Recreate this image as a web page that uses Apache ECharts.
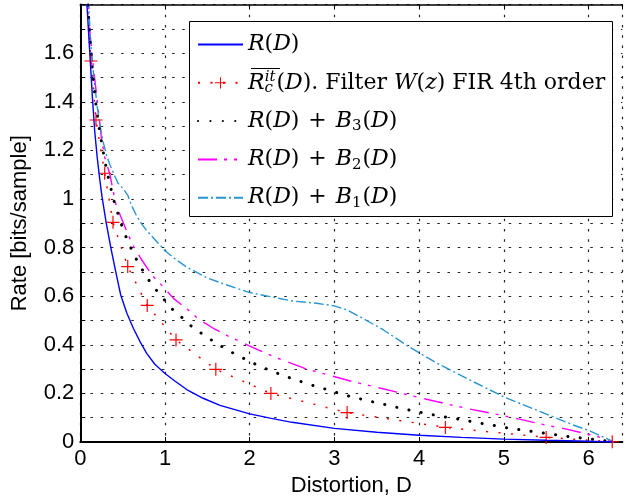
<!DOCTYPE html>
<html>
<head>
<meta charset="utf-8">
<script src="https://cdn.jsdelivr.net/npm/echarts@6.0.0/dist/echarts.min.js"></script>
<style>html,body{margin:0;padding:0;background:#fff;}#c{width:624px;height:496px;}</style>
</head>
<body>
<div id="c"></div>
<script>
// ---- data ----
const xTicks = [0, 1, 2, 3, 4, 5, 6];
const yTickLabels = ['0', '0.2', '0.4', '0.6', '0.8', '1', '1.2', '1.4', '1.6'];

const rdD = [0.075, 0.11, 0.145, 0.17, 0.2, 0.23, 0.256, 0.307, 0.366, 0.425, 0.477, 0.55, 0.626, 0.71, 0.784, 0.88, 1.0, 1.12, 1.256, 1.45, 1.65, 2.0, 2.24, 2.5, 3.0, 3.5, 4.0, 4.5, 5.0, 5.5, 6.0, 6.28];
const rdR = [1.82, 1.613, 1.407, 1.28, 1.17, 1.08, 1.01, 0.9, 0.79, 0.69, 0.605, 0.53, 0.468, 0.41, 0.365, 0.32, 0.282, 0.25, 0.216, 0.18, 0.151, 0.116, 0.098, 0.081, 0.056, 0.04, 0.028, 0.019, 0.012, 0.007, 0.003, 0];

const rcD = [0.07, 0.126, 0.185, 0.288, 0.386, 0.56, 0.79, 1.13, 1.6, 2.25, 3.15, 4.31, 5.5, 6.28];
const rcR = [1.87, 1.568, 1.325, 1.106, 0.904, 0.722, 0.562, 0.42, 0.299, 0.2, 0.121, 0.06, 0.019, 0.001];

const b3D = [0.08, 0.09, 0.105, 0.125, 0.15, 0.18, 0.21, 0.24, 0.27, 0.31, 0.358, 0.394, 0.437, 0.48, 0.53, 0.59, 0.654, 0.728, 0.807, 0.895, 0.988, 1.086, 1.197, 1.31, 1.43, 1.555, 1.68, 1.81, 1.94, 2.07, 2.21, 2.35, 2.49, 2.63, 2.77, 2.92, 3.06, 3.2, 3.35, 3.49, 3.64, 3.78, 3.93, 4.08, 4.22, 4.36, 4.51, 4.66, 4.81, 4.96, 5.1, 5.25, 5.4, 5.55, 5.69, 5.84, 5.99, 6.13, 6.28];
const b3R = [1.9, 1.8, 1.7, 1.6, 1.5, 1.4, 1.32, 1.254, 1.195, 1.12, 1.048, 0.996, 0.948, 0.9, 0.852, 0.804, 0.757, 0.711, 0.667, 0.626, 0.587, 0.547, 0.513, 0.477, 0.447, 0.418, 0.391, 0.365, 0.342, 0.32, 0.299, 0.28, 0.262, 0.246, 0.23, 0.215, 0.2, 0.186, 0.174, 0.162, 0.151, 0.139, 0.128, 0.118, 0.108, 0.1, 0.092, 0.081, 0.073, 0.063, 0.055, 0.048, 0.04, 0.033, 0.026, 0.019, 0.014, 0.007, 0.002];

const b2D = [0.085, 0.1, 0.115, 0.154, 0.213, 0.252, 0.29, 0.35, 0.418, 0.475, 0.55, 0.62, 0.72, 0.85, 0.94, 1.1, 1.275, 1.41, 1.57, 1.76, 1.89, 2.1, 2.3, 2.65, 2.85, 3.22, 3.44, 3.8, 4.01, 4.36, 4.59, 4.96, 5.17, 5.53, 5.74, 6.08, 6.3];
const b2R = [1.9, 1.78, 1.68, 1.544, 1.366, 1.243, 1.17, 1.1, 0.98, 0.93, 0.866, 0.81, 0.752, 0.685, 0.653, 0.591, 0.543, 0.502, 0.468, 0.433, 0.413, 0.379, 0.349, 0.303, 0.283, 0.248, 0.23, 0.2, 0.182, 0.154, 0.136, 0.111, 0.095, 0.067, 0.053, 0.025, 0];

const b1D = [0.085, 0.1, 0.12, 0.16, 0.2, 0.233, 0.27, 0.31, 0.35, 0.4, 0.445, 0.5, 0.56, 0.61, 0.66, 0.72, 0.78, 0.92, 1.0, 1.11, 1.25, 1.33, 1.5, 1.73, 2.0, 2.24, 2.51, 2.79, 3.0, 3.13, 3.3, 3.58, 3.85, 4.01, 4.25, 4.64, 5.01, 5.43, 5.82, 6.02, 6.3];
const b1R = [1.9, 1.79, 1.66, 1.5, 1.38, 1.3, 1.235, 1.18, 1.14, 1.1, 1.065, 1.045, 1.016, 0.97, 0.934, 0.9, 0.872, 0.818, 0.787, 0.756, 0.721, 0.706, 0.675, 0.646, 0.615, 0.598, 0.58, 0.571, 0.56, 0.546, 0.516, 0.461, 0.399, 0.365, 0.317, 0.248, 0.184, 0.125, 0.07, 0.045, 0];

const names = ['RD', 'RC', 'B3', 'B2', 'B1'];
// ---------------------------------------

const zip = (a, b) => a.map((v, i) => [v, b[i]]);
const plusPath = 'path://M0,4.55H10V5.45H0Z M4.55,0H5.45V10H4.55Z';

const legendText = {
  RD: '{i|R}{n|(}{i|D}{n|)}',
  RC: '{i|R}{cs|c}{sp|it}{n|(}{i|D}{n|). Filter }{i|W}{n|(}{i|z}{n|) FIR 4th order}',
  B3: '{i|R}{n|(}{i|D}{n|)}{pl|+}{i|B}{sb|3}{n|(}{i|D}{n|)}',
  B2: '{i|R}{n|(}{i|D}{n|)}{pl|+}{i|B}{sb|2}{n|(}{i|D}{n|)}',
  B1: '{i|R}{n|(}{i|D}{n|)}{pl|+}{i|B}{sb|1}{n|(}{i|D}{n|)}'
};

const serif = 'DejaVu Serif';
const sans = 'Liberation Sans';
const chart = echarts.init(document.getElementById('c'), null, {renderer: 'canvas'});
const dotted = {type: [2.5, 7.7], width: 1.2, color: '#222'};
const hide = {opacity: 0};

chart.setOption({
  animation: false,
  backgroundColor: '#fff',
  grid: {left: 80.3, right: 1.6, top: 4.6, bottom: 54, outerBoundsMode: 'none', containLabel: false},
  xAxis: [{
    type: 'value', min: 0, max: 6.4, interval: 1, position: 'bottom',
    name: 'Distortion, D', nameLocation: 'middle', nameGap: 27,
    nameTextStyle: {fontFamily: sans, fontSize: 22, color: '#000'},
    axisLine: {onZero: false, lineStyle: {color: '#000', width: 2}},
    axisTick: {inside: true, length: 5, lineStyle: {color: '#000', width: 1}},
    axisLabel: {fontFamily: sans, fontSize: 22, color: '#000', margin: 6, showMaxLabel: false,
      formatter: v => (xTicks.indexOf(Math.round(v * 1000) / 1000) >= 0 ? String(Math.round(v)) : '')},
    splitLine: {show: true, lineStyle: dotted}
  }, {
    type: 'value', min: 0, max: 6.4, interval: 1, position: 'top',
    axisLine: {onZero: false, lineStyle: {color: '#000', width: 1.5}},
    axisTick: {inside: true, length: 5, lineStyle: {color: '#000', width: 1}},
    axisLabel: {show: false}, splitLine: {show: false}
  }],
  yAxis: {
    type: 'value', min: 0, max: 1.8, interval: 0.1,
    name: 'Rate [bits/sample]', nameLocation: 'middle', nameGap: 49, nameRotate: 90,
    nameTextStyle: {fontFamily: sans, fontSize: 22, color: '#000'},
    axisLine: {show: true, onZero: false, lineStyle: {color: '#000', width: 2}},
    axisTick: {show: true, inside: true, length: 5, lineStyle: {color: '#000', width: 1}},
    axisLabel: {fontFamily: sans, fontSize: 22, color: '#000', margin: 6,
      formatter: v => {
        const k = Math.round(v * 10);
        if (k % 2 !== 0) return '';
        const s = String(k / 10);
        return yTickLabels.indexOf(s) >= 0 ? s : '';
      }},
    splitLine: {show: true, lineStyle: dotted}
  },
  legend: {
    orient: 'vertical', left: 197, top: 33.5, padding: 0, itemGap: 14.3,
    itemWidth: 45, itemHeight: 14, z: 5,
    data: [
      {name: 'RD', itemStyle: hide},
      {name: 'RC'},
      {name: 'B3', itemStyle: hide},
      {name: 'B2', itemStyle: hide},
      {name: 'B1', itemStyle: hide}
    ],
    formatter: n => legendText[n],
    textStyle: {
      color: '#000',
      rich: {
        i: {fontFamily: serif, fontStyle: 'italic', fontSize: 22, lineHeight: 26, color: '#000'},
        n: {fontFamily: serif, fontSize: 22, lineHeight: 26, color: '#000'},
        pl: {fontFamily: serif, fontSize: 22, lineHeight: 26, color: '#000', padding: [0, 9, 0, 9]},
        sb: {fontFamily: serif, fontSize: 15, lineHeight: 15, verticalAlign: 'bottom', color: '#000', padding: [0, 1, 0, 0]},
        cs: {fontFamily: serif, fontStyle: 'italic', fontSize: 15, lineHeight: 14, verticalAlign: 'bottom', width: 0.1, color: '#000'},
        sp: {fontFamily: serif, fontStyle: 'italic', fontSize: 15, lineHeight: 14, verticalAlign: 'top', color: '#000', padding: [0, 1, 0, 0]}
      }
    }
  },
  graphic: [
    {type: 'rect', z: 3, shape: {x: 189.5, y: 21.5, width: 423, height: 195},
      style: {fill: '#fff', stroke: '#000', lineWidth: 1}},
    {type: 'line', z: 6, shape: {x1: 251, y1: 68.5, x2: 280, y2: 68.5},
      style: {stroke: '#000', lineWidth: 1}}
  ],
  series: [
    {name: 'RD', type: 'line', data: zip(rdD, rdR), symbol: 'none', z: 6,
      lineStyle: {color: '#0000ff', width: 1.4}, itemStyle: {color: '#0000ff'}},
    {name: 'RC', type: 'line', data: zip(rcD, rcR), symbol: plusPath, symbolSize: 13, z: 5,
      lineStyle: {color: '#ff0000', width: 1.5, type: [2, 10.5]}, itemStyle: {color: '#ff0000'}},
    {name: 'B3', type: 'line', data: zip(b3D, b3R), symbol: 'none', z: 4,
      lineStyle: {color: '#000', width: 3, type: [0.1, 12.3], cap: 'round'}, itemStyle: {color: '#000'}},
    {name: 'B2', type: 'line', data: zip(b2D, b2R), symbol: 'none', z: 3,
      lineStyle: {color: '#ff00ff', width: 1.4, type: [19, 7, 3, 7, 3, 8]}, itemStyle: {color: '#ff00ff'}},
    {name: 'B1', type: 'line', data: zip(b1D, b1R), symbol: 'none', z: 3,
      lineStyle: {color: '#2b95d2', width: 1.4, type: [10, 3, 2, 3]}, itemStyle: {color: '#2b95d2'}}
  ]
});
</script>
</body>
</html>
